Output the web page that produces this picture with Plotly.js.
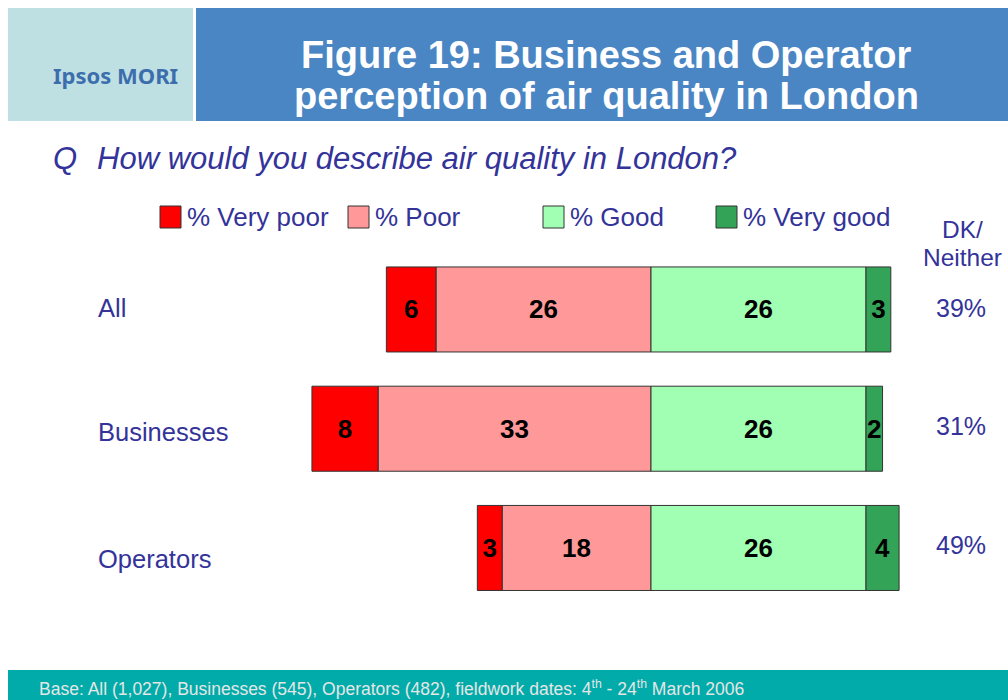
<!DOCTYPE html>
<html>
<head>
<meta charset="utf-8">
<script src="https://cdn.plot.ly/plotly-3.0.1.min.js"></script>
<style>
html,body{margin:0;padding:0;background:#fff;}
#chart{width:1008px;height:700px;}
</style>
</head>
<body>
<div id="chart"></div>
<script>
// ---- data ----
var categories = ["All", "Businesses", "Operators"];
var veryPoor = [6, 8, 3];
var poor = [26, 33, 18];
var good = [26, 26, 26];
var veryGood = [3, 2, 4];
var dkNeither = [39, 31, 49];
var seriesNames = ["% Very poor", "% Poor", "% Good", "% Very good"];
var seriesColors = ["#FF0000", "#FF9999", "#A0FFB2", "#33A457"];

var TEXT = "#333399";
var FONT = "Liberation Sans, Arial, sans-serif";

function neg(a){ return a.map(function(v){ return -v; }); }
function mkTrace(vals, name, color, negative){
  return {
    type: "bar", orientation: "h",
    y: categories, x: negative ? neg(vals) : vals,
    name: name, text: vals.map(String),
    textposition: "inside", insidetextanchor: "middle", textangle: 0,
    constraintext: "none",
    textfont: {family: FONT, size: 26, color: "#000", weight: "bold"},
    marker: {color: color, line: {color: "#333333", width: 1}},
    hoverinfo: "skip", showlegend: false, cliponaxis: false
  };
}
var traces = [
  mkTrace(poor, seriesNames[1], seriesColors[1], true),
  mkTrace(veryPoor, seriesNames[0], seriesColors[0], true),
  mkTrace(good, seriesNames[2], seriesColors[2], false),
  mkTrace(veryGood, seriesNames[3], seriesColors[3], false)
];

var W = 1008, H = 700;
function px(x){ return x / W; }
function py(y){ return 1 - y / H; }

var shapes = [
  {type:"rect", xref:"paper", yref:"paper", x0:px(8), x1:px(193), y0:py(121), y1:py(8), fillcolor:"#BFE0E2", line:{width:0}, layer:"below"},
  {type:"rect", xref:"paper", yref:"paper", x0:px(196), x1:px(1008), y0:py(121), y1:py(8), fillcolor:"#4A86C4", line:{width:0}, layer:"below"},
  {type:"rect", xref:"paper", yref:"paper", x0:px(8), x1:px(1008), y0:py(700), y1:py(670), fillcolor:"#00ABA9", line:{width:0}, layer:"below"}
];

function ann(x, y, text, size, color, anchor, extra){
  var a = {xref:"paper", yref:"paper", x:px(x), y:py(y), text:text, showarrow:false,
    font:{family:FONT, size:size, color:color}, xanchor:anchor || "left", yanchor:"middle"};
  if (extra) for (var k in extra) a[k] = extra[k];
  return a;
}

var annotations = [
  {xref:"paper", yref:"paper", x:px(115), y:py(75), text:"Ipsos MORI", showarrow:false,
   font:{family:"Noto Sans, Open Sans, sans-serif", size:22, color:"#3C6EAD", weight:"bold"}, xanchor:"center", yanchor:"middle"},
  {xref:"paper", yref:"paper", x:px(606), y:py(55), text:"Figure 19: Business and Operator", showarrow:false,
   font:{family:FONT, size:38, color:"#FFFFFF", weight:"bold"}, xanchor:"center", yanchor:"middle"},
  {xref:"paper", yref:"paper", x:px(606), y:py(96), text:"perception of air quality in London", showarrow:false,
   font:{family:FONT, size:38, color:"#FFFFFF", weight:"bold"}, xanchor:"center", yanchor:"middle"},
  ann(51, 159, "<i>Q</i>", 31, TEXT),
  ann(95, 159, "<i>How would you describe air quality in London?</i>", 31, TEXT),
  ann(962, 230, "DK/", 24.5, TEXT, "center"),
  ann(962, 257, "Neither", 24.5, TEXT, "center"),
  {xref:"paper", yref:"paper", x:px(37), y:py(688), text:"Base: All (1,027), Businesses (545), Operators (482), fieldwork dates: 4<sup>th</sup> - 24<sup>th</sup> March 2006", showarrow:false,
   font:{family:FONT, size:17.5, color:"#E6E6E6"}, xanchor:"left", yanchor:"middle"}
];

// legend (custom)
var legX = [160, 348, 543, 716];
for (var i = 0; i < seriesNames.length; i++){
  shapes.push({type:"rect", xref:"paper", yref:"paper", x0:px(legX[i]), x1:px(legX[i]+21), y0:py(228), y1:py(206),
    fillcolor:seriesColors[i], line:{color:"#333333", width:1}});
  annotations.push(ann(legX[i]+25, 217, seriesNames[i], 26, TEXT));
}

// category labels & DK values
var catShift = [1, -3, -11];
var dkShift = [1, 3, 3];
for (var j = 0; j < categories.length; j++){
  annotations.push({xref:"paper", yref:"y", x:px(96), y:categories[j], yshift:catShift[j], text:categories[j], showarrow:false,
    font:{family:FONT, size:25.5, color:TEXT}, xanchor:"left", yanchor:"middle"});
  annotations.push({xref:"paper", yref:"y", x:px(961), y:categories[j], yshift:dkShift[j], text:dkNeither[j] + "%", showarrow:false,
    font:{family:FONT, size:25, color:TEXT}, xanchor:"center", yanchor:"middle"});
}

var layout = {
  width: W, height: H,
  margin: {l:0, r:0, t:0, b:0, pad:0},
  paper_bgcolor: "#FFFFFF", plot_bgcolor: "rgba(0,0,0,0)",
  barmode: "relative", bargap: 0.287,
  showlegend: false,
  uniformtext: {mode: "show", minsize: 26},
  xaxis: {range: [-78.72, 43.17], visible: false, fixedrange: true},
  yaxis: {type: "category", categoryorder: "array", categoryarray: categories,
          range: [3.275, -2.595], visible: false, fixedrange: true},
  shapes: shapes,
  annotations: annotations
};

Plotly.newPlot("chart", traces, layout, {staticPlot: true, displayModeBar: false});
</script>
</body>
</html>
